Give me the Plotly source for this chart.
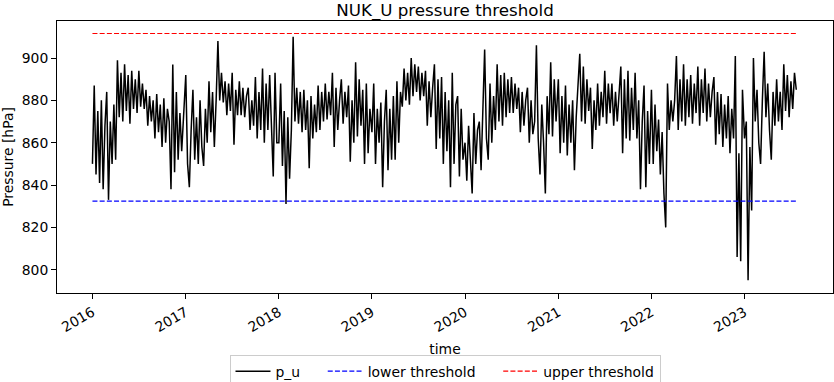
import pandas as pd
import plotly.graph_objects as go

# Weekly pressure readings for station NUK_U, one list per year (hPa)
p_u_2016 = [850, 887, 845, 875, 841, 880, 838, 868, 884, 833, 870, 850, 878,
            852, 899, 872, 893, 870, 897, 875, 892, 869, 894, 876, 890, 874,
            894, 877, 888, 876, 885, 868, 882, 870, 880, 862, 883, 865, 878,
            858, 881, 860, 876, 870, 838, 897, 846, 884, 852, 874, 856, 870]
p_u_2017 = [892, 850, 839, 866, 885, 852, 872, 850, 880, 858, 849, 876, 860,
            889, 865, 884, 858, 880, 908, 880, 893, 879, 889, 873, 888, 875,
            893, 859, 885, 873, 889, 873, 886, 872, 882, 886, 866, 880, 868,
            891, 862, 884, 866, 895, 860, 888, 866, 892, 870, 844, 893, 860]
p_u_2018 = [860, 888, 849, 875, 831, 872, 843, 866, 910, 870, 886, 869, 884,
            865, 885, 866, 880, 848, 882, 862, 878, 865, 887, 866, 884, 870,
            888, 871, 884, 873, 893, 858, 886, 866, 880, 890, 869, 884, 872,
            887, 851, 880, 860, 898, 863, 890, 868, 885, 850, 888, 855, 876]
p_u_2019 = [865, 888, 850, 876, 860, 879, 839, 870, 885, 847, 876, 852, 882,
            852, 889, 860, 884, 877, 895, 880, 893, 878, 900, 882, 897, 884,
            896, 880, 893, 882, 894, 868, 889, 872, 886, 897, 857, 890, 862,
            891, 850, 884, 856, 880, 839, 893, 850, 878, 882, 844, 876, 852]
p_u_2020 = [860, 842, 868, 848, 836, 874, 850, 866, 870, 847, 875, 904, 862,
            852, 888, 860, 882, 866, 897, 870, 892, 868, 893, 872, 890, 874,
            891, 874, 888, 876, 886, 865, 884, 868, 880, 886, 860, 880, 864,
            870, 906, 862, 845, 878, 860, 836, 882, 864, 898, 863, 890, 870]
p_u_2021 = [890, 855, 882, 860, 887, 854, 878, 860, 880, 847, 872, 885, 902,
            870, 896, 869, 890, 875, 886, 857, 880, 866, 888, 868, 884, 872,
            894, 869, 888, 874, 888, 868, 884, 870, 882, 896, 855, 890, 862,
            894, 861, 886, 866, 893, 862, 880, 838, 870, 887, 839, 875, 850]
p_u_2022 = [885, 850, 878, 856, 871, 845, 865, 836, 820, 888, 866, 880, 870,
            880, 901, 866, 890, 870, 897, 868, 890, 872, 892, 869, 888, 874,
            896, 868, 890, 874, 895, 870, 888, 872, 884, 891, 859, 884, 864,
            883, 858, 878, 862, 882, 855, 876, 862, 901, 806, 855, 804, 885]
p_u_2023 = [862, 870, 795, 858, 828, 900, 870, 885, 860, 850, 880, 903, 872,
            888, 866, 852, 884, 868, 890, 870, 884, 866, 897, 875, 892, 872,
            889, 876, 893, 885]

years = [2016, 2017, 2018, 2019, 2020, 2021, 2022, 2023]
yearly_values = [p_u_2016, p_u_2017, p_u_2018, p_u_2019,
                 p_u_2020, p_u_2021, p_u_2022, p_u_2023]

lower_threshold = 832.4
upper_threshold = 911.6
threshold_start = "2016-01-01"
threshold_end = "2023-07-25"

font_family = "DejaVu Sans"
pad = "\u00a0" * 4  # extra room after a legend label, like matplotlib's column spacing


def build_series():
    # Each year's readings start on 1 January and are a week apart
    dates = []
    values = []
    for year, vals in zip(years, yearly_values):
        dates += list(pd.date_range(f"{year}-01-01", periods=len(vals), freq="7D"))
        values += vals
    return dates, values


def create_threshold_fig():
    dates, values = build_series()
    fig = go.Figure()
    fig.add_trace(go.Scatter(
        x=dates, y=values, mode="lines", name="p_u" + pad,
        line=dict(color="black", width=1.5),
    ))
    fig.add_trace(go.Scatter(
        x=[threshold_start, threshold_end], y=[lower_threshold, lower_threshold],
        mode="lines", name="lower threshold" + pad,
        line=dict(color="#0000ff", width=1.2, dash="5px,2.2px"),
    ))
    fig.add_trace(go.Scatter(
        x=[threshold_start, threshold_end], y=[upper_threshold, upper_threshold],
        mode="lines", name="upper threshold",
        line=dict(color="#ff0000", width=1.2, dash="5px,2.2px"),
    ))

    fig.update_layout(
        template="none",
        width=834, height=382,
        margin=dict(l=57, r=1, t=21, b=89, autoexpand=False),
        paper_bgcolor="white", plot_bgcolor="white",
        font=dict(family=font_family, size=13.9, color="black"),
        title=dict(text="NUK_U pressure threshold", x=0.5336, xanchor="center",
                   y=0.973, yanchor="middle", font=dict(size=16.7)),
        legend=dict(orientation="h", x=0.5, xanchor="center", y=-0.2268, yanchor="top",
                    bordercolor="#cccccc", borderwidth=1, bgcolor="white",
                    itemwidth=35, font=dict(size=13.9)),
        showlegend=True,
        hovermode=False,
    )
    fig.update_xaxes(
        automargin=False,
        range=["2015-08-15", "2023-12-14"],
        tick0="2016-01-01", dtick="M12", tickformat="%Y", tickangle=-30,
        ticks="outside", ticklen=5, tickwidth=1, tickcolor="black",
        showline=True, linecolor="black", linewidth=1, mirror=True,
        showgrid=False, zeroline=False,
        title=dict(text="time", standoff=10, font=dict(size=13.9)),
    )
    fig.update_yaxes(
        automargin=False,
        range=[789, 917.5], tick0=800, dtick=20,
        ticks="outside", ticklen=5, tickwidth=1, tickcolor="black",
        showline=True, linecolor="black", linewidth=1, mirror=True,
        showgrid=False, zeroline=False,
        title=dict(text="Pressure [hPa]", standoff=4, font=dict(size=13.9)),
    )
    return fig


fig = create_threshold_fig()
# The browser's default 8px body margin would push the figure off the window
fig.write_html("out.html", config={"displayModeBar": False},
               post_script="document.body.style.margin = '0';")
